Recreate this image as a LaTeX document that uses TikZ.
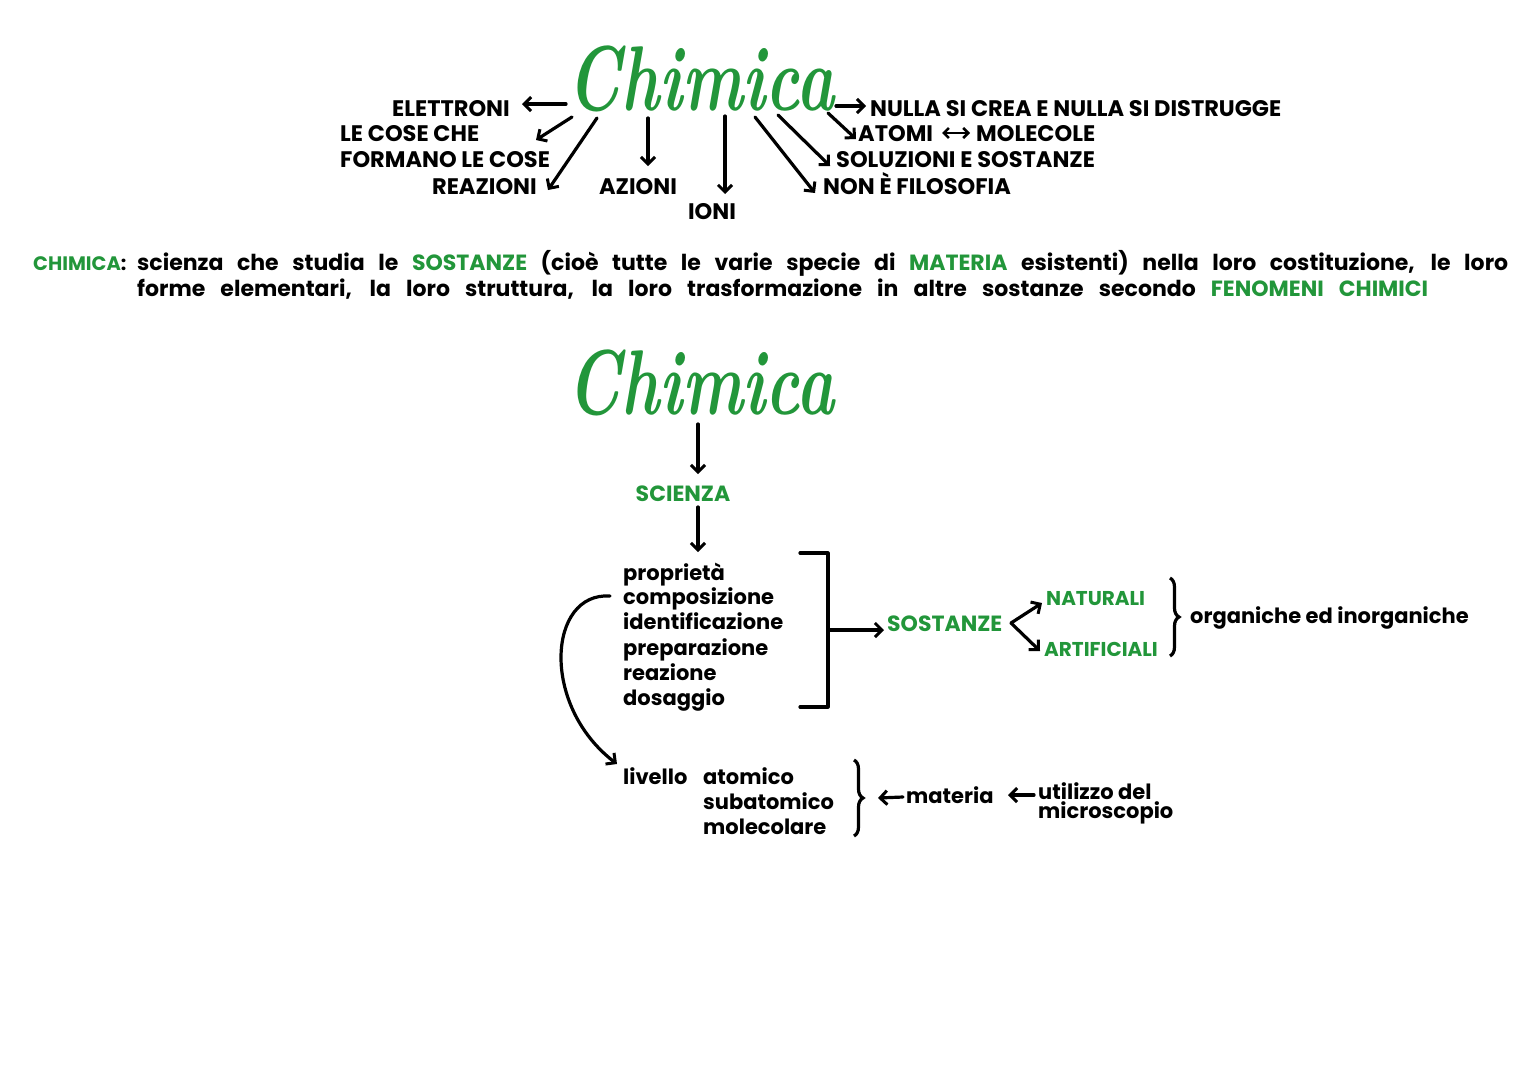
\documentclass[tikz,border=0pt]{standalone}
\usepackage{fontspec}
\newfontfamily\handfont{Poppins}
\usetikzlibrary{arrows.meta,decorations.pathreplacing,calc}
\definecolor{chemgreen}{RGB}{34,150,58}
\begin{document}
\begin{tikzpicture}[x=1pt,y=-1pt,
  conn/.style={line width=3.2pt,line cap=round,-{Straight Barb[length=7pt,width=14pt,line width=3pt]}},
  dconn/.style={line width=2.8pt,line cap=round,{Straight Barb[length=5pt,width=10pt,line width=2.6pt]}-{Straight Barb[length=5pt,width=10pt,line width=2.6pt]}},
  caps/.style={inner sep=0pt,font=\handfont\bfseries\fontsize{22.5}{22.5}\selectfont},
  gcaps/.style={inner sep=0pt,text=chemgreen,font=\handfont\bfseries\fontsize{22}{22}\selectfont},
  sgcaps/.style={gcaps,font=\handfont\bfseries\fontsize{20}{20}\selectfont},
  hand/.style={inner sep=0pt,font=\handfont\bfseries\fontsize{21}{21}\selectfont},
  deftext/.style={inner sep=0pt,font=\handfont\bfseries\fontsize{22}{22}\selectfont},
  titlestyle/.style={inner sep=0pt,text=chemgreen,font=\fontsize{92}{92}\selectfont\bfseries\itshape},
  bracepath/.style={line width=3.2pt,decorate,decoration={brace,amplitude=9pt}}
]
\useasboundingbox[fill=white] (0,0) rectangle (1527,1080);

% ---------- top title ----------
\node[titlestyle,anchor=base] (t1) at (701,110) {\scalebox{0.7}[1]{Chimica}};

\node[caps,anchor=base east] (elet) at (510,116) {ELETTRONI};
\node[caps,anchor=base west] (cose1) at (340,141) {LE COSE CHE};
\node[caps,anchor=base west] (cose2) at (340,167) {FORMANO LE COSE};
\node[caps,anchor=base east] (reaz) at (537,194) {REAZIONI};
\node[caps,anchor=base] (azio) at (638,194) {AZIONI};
\node[caps,anchor=base] (ioni) at (712,219) {IONI};
\node[caps,anchor=base west] (nulla) at (870,116) {NULLA SI CREA E NULLA SI DISTRUGGE};
\node[caps,anchor=base west] (atomi) at (858,141) {ATOMI};
\node[caps,anchor=base west] (molec) at (976,141) {MOLECOLE};
\node[caps,anchor=base west] (soluz) at (836,167) {SOLUZIONI E SOSTANZE};
\node[caps,anchor=base west] (nonfil) at (823,194) {NON È FILOSOFIA};

\coordinate (s1) at (566,104);
\coordinate (s2) at (572,117);
\coordinate (s3) at (597,118);
\coordinate (s4) at (648,118);
\coordinate (s5) at (725,116);
\coordinate (s6) at (755,117);
\coordinate (s7) at (778,115);
\coordinate (s8) at (828,113);
\coordinate (s9) at (836,106);
\coordinate (e1) at (522,104);
\coordinate (e2) at (536,140);
\coordinate (e3) at (548,190);
\coordinate (e4) at (648,166);
\coordinate (e5) at (725,194);
\coordinate (e6) at (815,193);
\coordinate (e7) at (830,166);
\coordinate (e8) at (856,139);
\coordinate (e9) at (866,106);
\coordinate (am1) at (942,133);
\coordinate (am2) at (970,133);

\draw[conn] (s1) -- (e1);
\draw[conn] (s2) -- (e2);
\draw[conn] (s3) -- (e3);
\draw[conn] (s4) -- (e4);
\draw[conn] (s5) -- (e5);
\draw[conn] (s6) -- (e6);
\draw[conn] (s7) -- (e7);
\draw[conn] (s8) -- (e8);
\draw[conn] (s9) -- (e9);
\draw[dconn] (am1) -- (am2);

% ---------- definition ----------
\node[deftext,anchor=base west,text=chemgreen,font=\handfont\bfseries\fontsize{19.5}{19.5}\selectfont] (defh) at (33,270) {CHIMICA\textcolor{black}{:}};
\node[deftext,anchor=base west] (def1) at (137,270) {\makebox[1371pt][s]{scienza che studia le \textcolor{chemgreen}{SOSTANZE} (cioè tutte le varie specie di \textcolor{chemgreen}{MATERIA} esistenti) nella loro costituzione, le loro}};
\node[deftext,anchor=base west] (def2) at (137,296) {\makebox[1291pt][s]{forme elementari, la loro struttura, la loro trasformazione in altre sostanze secondo \textcolor{chemgreen}{FENOMENI CHIMICI}}};

% ---------- second title ----------
\node[titlestyle,anchor=base] (t2) at (701,414) {\scalebox{0.7}[1]{Chimica}};
\node[gcaps,anchor=base] (scienza) at (683,501) {SCIENZA};
\coordinate (a1s) at (698,424);
\coordinate (a1e) at (698,474);
\coordinate (a2s) at (698,507);
\coordinate (a2e) at (698,552);
\draw[conn] (a1s) -- (a1e);
\draw[conn] (a2s) -- (a2e);

\node[hand,anchor=base west] (l1) at (623,580) {proprietà};
\node[hand,anchor=base west] (l2) at (623,604) {composizione};
\node[hand,anchor=base west] (l3) at (623,629) {identificazione};
\node[hand,anchor=base west] (l4) at (623,655) {preparazione};
\node[hand,anchor=base west] (l5) at (623,680) {reazione};
\node[hand,anchor=base west] (l6) at (623,705) {dosaggio};

\coordinate (bk1) at (800,553);
\coordinate (bk2) at (828,553);
\coordinate (bk3) at (828,707);
\coordinate (bk4) at (800,707);
\coordinate (bkm) at (828,630);
\draw[line width=3.2pt,line cap=round,line join=round] (bk1) -- (bk2) -- (bk3) -- (bk4);

\node[gcaps,anchor=base west] (sost) at (887,631) {SOSTANZE};
\coordinate (sostin) at (884,630);
\draw[conn] (bkm) -- (sostin);
\node[sgcaps,anchor=base west] (nat) at (1046,605) {NATURALI};
\node[sgcaps,anchor=base west] (art) at (1044,656) {ARTIFICIALI};
\coordinate (fork) at (1011,623);
\coordinate (natin) at (1042,603);
\coordinate (artin) at (1040,651);
\draw[conn] (fork) -- (natin);
\draw[conn] (fork) -- (artin);
\draw[bracepath] (1170,578) -- (1170,656);
\node[hand,anchor=base west] (org) at (1190,623) {organiche ed inorganiche};

% ---------- levels ----------
\node[hand,anchor=base west] (liv) at (623,784) {livello};
\node[hand,anchor=base west] (at) at (703,784) {atomico};
\node[hand,anchor=base west] (sub) at (703,809) {subatomico};
\node[hand,anchor=base west] (mol) at (703,834) {molecolare};
\coordinate (cvs) at (610,596);
\coordinate (cve) at (617,764);
\draw[conn] (cvs) .. controls (548,592) and (540,705) .. (cve);

\draw[bracepath] (854,760) -- (854,836);
\coordinate (bt) at (878,798);
\node[hand,anchor=base west] (mat) at (906,803) {materia};
\node[hand,anchor=base west] (util) at (1038,799) {utilizzo del};
\node[hand,anchor=base west] (micro) at (1038,818) {microscopio};
\coordinate (matout) at (903,797);
\coordinate (utilout) at (1034,795);
\coordinate (matin) at (1008,795);
\draw[conn] (matout) -- (bt);
\draw[conn] (utilout) -- (matin);

\end{tikzpicture}
\end{document}
